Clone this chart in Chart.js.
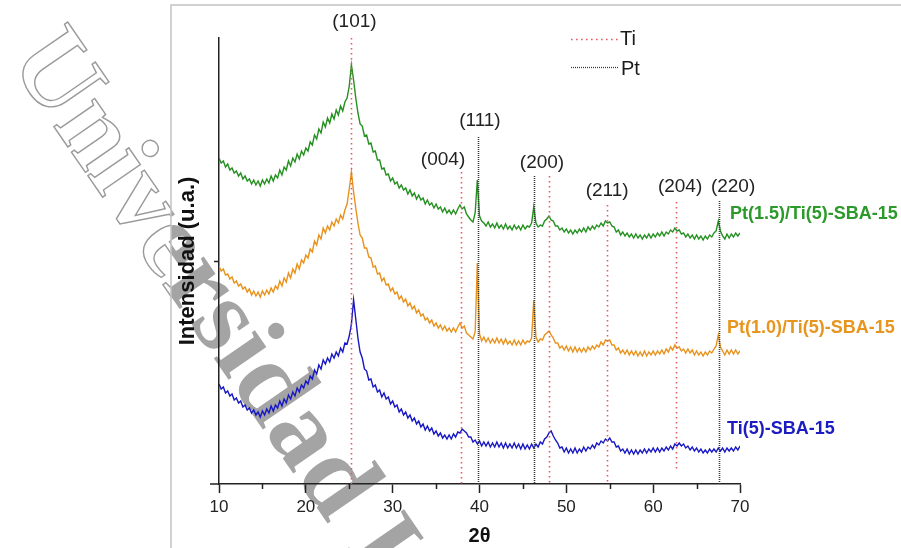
<!DOCTYPE html>
<html><head><meta charset="utf-8">
<script src="https://cdn.jsdelivr.net/npm/chart.js@4.4.1/dist/chart.umd.min.js"></script>
<style>html,body{margin:0;padding:0;background:#fff;}canvas{display:block;}</style>
</head><body>
<canvas id="c" width="901" height="548"></canvas>
<script>
// 2θ sampling (degrees)
const twoTheta = [
10,10.25,10.5,10.75,11,11.25,11.5,11.75,12,12.25,12.5,12.75,13,13.25,13.5,13.75,14,14.25,14.5,14.75,
15,15.25,15.5,15.75,16,16.25,16.5,16.75,17,17.25,17.5,17.75,18,18.25,18.5,18.75,19,19.25,19.5,19.75,
20,20.25,20.5,20.75,21,21.25,21.5,21.75,22,22.25,22.5,22.75,23,23.25,23.5,23.75,24,24.25,24.5,24.75,
25,25.25,25.5,25.75,26,26.25,26.5,26.75,27,27.25,27.5,27.75,28,28.25,28.5,28.75,29,29.25,29.5,29.75,
30,30.25,30.5,30.75,31,31.25,31.5,31.75,32,32.25,32.5,32.75,33,33.25,33.5,33.75,34,34.25,34.5,34.75,
35,35.25,35.5,35.75,36,36.25,36.5,36.75,37,37.25,37.5,37.75,38,38.25,38.5,38.75,39,39.25,39.5,39.75,
40,40.25,40.5,40.75,41,41.25,41.5,41.75,42,42.25,42.5,42.75,43,43.25,43.5,43.75,44,44.25,44.5,44.75,
45,45.25,45.5,45.75,46,46.25,46.5,46.75,47,47.25,47.5,47.75,48,48.25,48.5,48.75,49,49.25,49.5,49.75,
50,50.25,50.5,50.75,51,51.25,51.5,51.75,52,52.25,52.5,52.75,53,53.25,53.5,53.75,54,54.25,54.5,54.75,
55,55.25,55.5,55.75,56,56.25,56.5,56.75,57,57.25,57.5,57.75,58,58.25,58.5,58.75,59,59.25,59.5,59.75,
60,60.25,60.5,60.75,61,61.25,61.5,61.75,62,62.25,62.5,62.75,63,63.25,63.5,63.75,64,64.25,64.5,64.75,
65,65.25,65.5,65.75,66,66.25,66.5,66.75,67,67.25,67.5,67.75,68,68.25,68.5,68.75,69,69.25,69.5,69.75,
70];

// Intensity (a.u., stacked patterns)
const ptTi15 = [
326,321,323,317,320,314,316,311,313,308,311,305,308,303,305,300,304,299,303,298,
304,300,305,301,308,303,309,306,314,309,317,314,323,318,326,322,330,325,333,329,
336,333,342,339,349,345,355,351,362,357,366,361,370,365,374,369,378,373,382,386,
398,419,404,386,371,360,358,348,349,340,341,332,333,324,324,315,316,309,310,303,
306,300,302,296,299,294,296,290,294,288,291,285,289,284,286,280,284,279,281,276,
280,275,277,272,276,271,274,270,274,270,275,279,275,277,270,267,264,262,271,304,
268,263,261,258,262,257,260,256,261,256,259,255,260,255,258,254,259,255,258,254,
259,255,258,257,261,277,261,257,259,258,263,265,268,264,263,258,258,254,256,252,
255,251,254,250,254,251,255,252,256,252,257,254,258,255,259,257,261,258,263,261,
262,258,257,252,254,249,252,248,251,247,250,246,250,246,249,245,249,246,250,246,
250,247,251,248,252,248,252,250,254,252,256,253,254,250,251,247,250,246,249,245,
249,245,248,244,248,245,249,247,251,253,263,253,248,245,250,246,250,247,251,248,
251];
const ptTi10 = [
218,213,215,209,210,205,207,201,203,198,200,195,197,192,195,189,193,188,192,187,
193,189,194,190,196,192,198,195,203,198,206,202,211,206,215,211,220,215,224,221,
229,226,235,232,243,239,249,245,256,251,258,254,262,258,265,261,269,265,274,280,
295,312,292,276,261,249,246,236,236,227,226,217,218,210,211,203,206,199,200,193,
196,190,192,185,188,182,185,178,181,175,178,171,174,168,170,164,166,161,164,158,
161,156,159,154,158,153,156,152,156,152,157,161,156,158,151,149,147,145,152,221,
150,143,147,142,146,141,145,141,146,141,145,140,145,140,143,139,144,139,143,139,
144,140,143,142,146,184,147,142,145,144,149,151,153,149,146,141,141,136,138,134,
138,133,137,132,137,132,136,132,136,132,137,134,138,135,139,137,142,139,144,143,
144,139,139,134,136,131,134,130,134,129,133,129,133,128,132,128,133,128,132,129,
133,129,133,130,134,130,135,132,137,134,139,136,137,133,135,131,135,131,134,129,
133,129,132,128,132,129,133,131,135,138,149,137,133,129,134,130,134,130,134,130,
133];
const ti5 = [
100,95,97,91,93,88,90,84,86,81,83,77,79,74,76,71,74,69,72,67,
73,69,75,71,78,73,79,76,83,78,85,81,89,85,92,88,96,92,99,96,
103,100,108,105,114,110,119,115,124,120,126,122,130,126,132,128,136,132,141,140,
148,160,184,165,146,132,126,115,113,104,105,97,99,92,94,87,91,85,87,80,
83,77,79,72,75,69,72,66,69,63,66,60,63,57,60,54,58,53,56,50,
53,48,51,46,49,45,49,45,50,47,52,51,55,53,51,47,47,42,44,40,
43,38,42,38,42,37,41,37,42,37,41,36,41,36,40,36,41,36,40,35,
40,35,39,35,40,36,40,37,42,40,45,47,51,53,48,44,41,36,37,32,
36,31,35,31,36,31,35,32,37,33,37,35,39,36,41,39,43,41,45,43,
46,42,42,37,38,33,35,31,35,30,34,30,34,30,34,31,35,31,35,32,
36,32,36,32,36,33,37,34,38,35,40,38,41,38,40,36,38,34,37,33,
36,32,35,31,34,31,35,32,35,32,36,33,36,32,36,33,36,33,37,34,
38];

const seriesNames = ['Pt(1.5)/Ti(5)-SBA-15', 'Pt(1.0)/Ti(5)-SBA-15', 'Ti(5)-SBA-15'];
const xTicks = [10, 20, 30, 40, 50, 60, 70];
const xMinorTicks = [15, 25, 35, 45, 55, 65];
const yTicks = [223];

// reference reflections
const tiPeaks = [25.2, 37.9, 48.0, 54.7, 62.6];
const tiLineTop = [446, 312, 308, 279, 282];
const tiLineBottom = [0, 0, 0, 0, 12];
const ptPeaks = [39.8, 46.3, 67.6];
const ptLineTop = [347, 308, 283];
const ptLineBottom = [0, 0, 0];
const hklLabels = ['(101)', '(004)', '(111)', '(200)', '(211)', '(204)', '(220)'];
const legendLabels = ['Ti', 'Pt'];

// ---------- layout / styles (not data) ----------
const hklAnchor = [[25.6, 462], [35.8, 324], [40.05, 363], [47.2, 321], [54.7, 293], [63.1, 297], [69.2, 297]];
const seriesColors = ['#23901f', '#e8921c', '#1717c4'];
const seriesTextColors = ['#2c9a2a', '#e8951e', '#1c1cc0'];
const seriesLabelPos = [[730, 214], [727, 328], [727, 429]];
const SANS = '"Liberation Sans", Arial, Helvetica, sans-serif';
const TI_COLOR = '#e65a5e';
const PT_COLOR = '#3a3a3a';

function pts(arr) { return arr.map((v, i) => ({ x: twoTheta[i], y: v })); }

function drawWatermark(ctx, mode) {
  ctx.save();
  ctx.translate(8, 60);
  ctx.rotate(55.4 * Math.PI / 180);
  ctx.font = 'bold 108px "Liberation Serif", "Times New Roman", serif';
  ctx.textBaseline = 'alphabetic';
  ctx.textAlign = 'left';
  const t = 'Universidad Internacional';
  if (mode === 'fill') { ctx.fillStyle = '#a4a4a4'; ctx.fillText(t, 0, 0); }
  else { ctx.strokeStyle = '#9a9a9a'; ctx.lineWidth = 1.4; ctx.strokeText(t, 0, 0); }
  ctx.restore();
}

const deco = {
  id: 'deco',
  beforeDraw(chart) {
    const ctx = chart.ctx;
    const W = chart.width, H = chart.height;
    // watermark: outlined outside the frame, filled inside
    ctx.save();
    ctx.beginPath(); ctx.rect(171, 5, W - 171, H - 5); ctx.clip();
    drawWatermark(ctx, 'fill');
    ctx.restore();
    ctx.save();
    ctx.beginPath(); ctx.rect(0, 0, W, H); ctx.rect(171, 5, W - 171, H - 5); ctx.clip('evenodd');
    drawWatermark(ctx, 'stroke');
    ctx.restore();
    // frame
    ctx.save();
    ctx.strokeStyle = '#c2c2c2'; ctx.lineWidth = 1.5;
    ctx.beginPath(); ctx.moveTo(171, H); ctx.lineTo(171, 5); ctx.lineTo(W, 5); ctx.stroke();
    ctx.restore();
  },
  afterDraw(chart) {
    const ctx = chart.ctx;
    const xs = chart.scales.x, ys = chart.scales.y;
    const area = chart.chartArea;
    ctx.save();
    // x-axis extension & minor ticks
    ctx.strokeStyle = '#222'; ctx.lineWidth = 1.5;
    ctx.beginPath(); ctx.moveTo(area.left - 9, area.bottom); ctx.lineTo(area.left, area.bottom); ctx.stroke();
    xMinorTicks.forEach(v => {
      const px = Math.round(xs.getPixelForValue(v)) + 0.5;
      ctx.beginPath(); ctx.moveTo(px, area.bottom); ctx.lineTo(px, area.bottom + 5); ctx.stroke();
    });
    // reference lines
    ctx.lineWidth = 1.6;
    ctx.strokeStyle = TI_COLOR; ctx.setLineDash([1.6, 3.4]);
    tiPeaks.forEach((p, i) => {
      const px = Math.round(xs.getPixelForValue(p)) + 0.5;
      ctx.beginPath(); ctx.moveTo(px, ys.getPixelForValue(tiLineTop[i])); ctx.lineTo(px, ys.getPixelForValue(tiLineBottom[i])); ctx.stroke();
    });
    ctx.strokeStyle = PT_COLOR; ctx.setLineDash([1, 1]);
    ptPeaks.forEach((p, i) => {
      const px = Math.round(xs.getPixelForValue(p)) + 0.5;
      ctx.beginPath(); ctx.moveTo(px, ys.getPixelForValue(ptLineTop[i])); ctx.lineTo(px, ys.getPixelForValue(ptLineBottom[i])); ctx.stroke();
    });
    // legend
    ctx.strokeStyle = TI_COLOR; ctx.setLineDash([1.6, 3.4]); ctx.lineWidth = 1.6;
    ctx.beginPath(); ctx.moveTo(571, 39.5); ctx.lineTo(619, 39.5); ctx.stroke();
    ctx.strokeStyle = PT_COLOR; ctx.setLineDash([1, 1]); ctx.lineWidth = 1.3;
    ctx.beginPath(); ctx.moveTo(571, 67.5); ctx.lineTo(619, 67.5); ctx.stroke();
    ctx.setLineDash([]);
    ctx.fillStyle = '#1a1a1a';
    ctx.font = '20px ' + SANS; ctx.textAlign = 'left'; ctx.textBaseline = 'middle';
    ctx.fillText(legendLabels[0], 620, 39);
    ctx.fillText(legendLabels[1], 621, 69);
    // hkl labels
    ctx.font = '19px ' + SANS; ctx.textAlign = 'center'; ctx.fillStyle = '#222';
    hklLabels.forEach((t, i) => {
      ctx.fillText(t, xs.getPixelForValue(hklAnchor[i][0]), ys.getPixelForValue(hklAnchor[i][1]));
    });
    // series labels
    ctx.font = 'bold 18px ' + SANS; ctx.textAlign = 'left';
    seriesNames.forEach((t, i) => {
      ctx.fillStyle = seriesTextColors[i];
      ctx.fillText(t, seriesLabelPos[i][0], seriesLabelPos[i][1]);
    });
    ctx.restore();
  }
};

const data = [ptTi15, ptTi10, ti5];
new Chart(document.getElementById('c'), {
  type: 'line',
  data: {
    datasets: data.map((arr, i) => ({
      label: seriesNames[i],
      data: pts(arr),
      borderColor: seriesColors[i],
      borderWidth: 1.4,
      pointRadius: 0,
      tension: 0,
      fill: false
    }))
  },
  options: {
    responsive: false,
    animation: false,
    devicePixelRatio: 1,
    layout: { padding: { left: 171, right: 161, top: 38, bottom: 0 } },
    plugins: { legend: { display: false }, tooltip: { enabled: false } },
    scales: {
      x: {
        type: 'linear', min: 10, max: 70,
        afterBuildTicks: s => { s.ticks = xTicks.map(v => ({ value: v })); },
        afterFit: s => { s.height = 64; },
        ticks: { color: '#222', font: { family: SANS, size: 17 }, padding: 4, maxRotation: 0 },
        grid: { drawOnChartArea: false, drawTicks: true, tickLength: 9, color: '#222', tickWidth: 1.5 },
        border: { display: true, color: '#222', width: 1.5 },
        title: { display: true, text: '2θ', color: '#111', font: { family: SANS, size: 20, weight: 'bold' }, padding: { top: 0, bottom: 0 } }
      },
      y: {
        type: 'linear', min: 0, max: 446,
        afterBuildTicks: s => { s.ticks = yTicks.map(v => ({ value: v })); },
        afterFit: s => { s.width = 48; },
        ticks: { display: false },
        grid: { drawOnChartArea: false, drawTicks: true, tickLength: 5, color: '#222', tickWidth: 1.5 },
        border: { display: true, color: '#222', width: 1.5 },
        title: { display: true, text: 'Intensidad (u.a.)', color: '#111', font: { family: SANS, size: 22, weight: 'bold' }, padding: { top: 4, bottom: 4 } }
      }
    }
  },
  plugins: [deco]
});
</script>
</body></html>
